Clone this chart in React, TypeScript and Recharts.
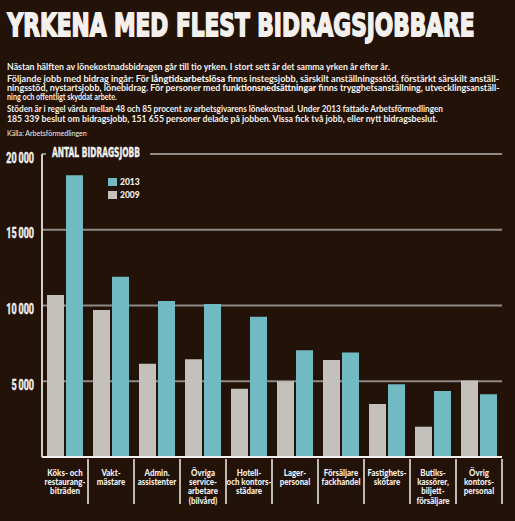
import React, { useLayoutEffect, useRef, useState } from 'react'
import { BarChart, Bar, XAxis, YAxis, CartesianGrid, Legend } from 'recharts'

const categories = [
  'Köks- och\nrestaurang-\nbiträden',
  'Vakt-\nmästare',
  'Admin.\nassistenter',
  'Övriga\nservice-\narbetare\n(bilvård)',
  'Hotell-\noch kontors-\nstädare',
  'Lager-\npersonal',
  'Försäljare\nfackhandel',
  'Fastighets-\nskötare',
  'Butiks-\nkassörer,\nbiljett-\nförsäljare',
  'Övrig\nkontors-\npersonal',
]
const jobs2013 = [18600, 11900, 10300, 10100, 9250, 7050, 6900, 4800, 4350, 4150]
const jobs2009 = [10700, 9700, 6150, 6450, 4500, 5000, 6400, 3500, 2000, 5050]
const yTicks = [0, 5000, 10000, 15000, 20000]

const data = categories.map((category, i) => ({
  category,
  y2013: jobs2013[i],
  y2009: jobs2009[i],
}))

const BG = '#221208'
const TEAL = '#72bac3'
const GRAY = '#c4c0bc'
const TEXT = '#f3f0ed'
const GRID = '#8e8985'

const W = 515
const H = 521
const PLOT_LEFT = 42
const PLOT_RIGHT = 502
const BAND = (PLOT_RIGHT - PLOT_LEFT) / categories.length

const fmt = (v: number) => v.toLocaleString('sv-SE').replace(/\s/g, '\u2009')

// squeezes a line of svg text to a given width
function FitText({ x, y, width, children, ...rest }: any) {
  const ref = useRef<SVGTextElement>(null)
  const [k, setK] = useState(1)
  useLayoutEffect(() => {
    const el = ref.current
    if (!el) return
    const w = el.getBBox().width
    if (w > 0) setK(width / w)
  }, [width])
  return (
    <text ref={ref} transform={`translate(${x} ${y}) scale(${k} 1)`} {...rest}>
      {children}
    </text>
  )
}

function ValueTick({ y, payload }: any) {
  if (!payload || payload.value === 0) return null
  return (
    <text
      transform={`translate(34 ${y + 8.5}) scale(0.6 1)`}
      textAnchor="end"
      fill={TEXT}
      stroke={TEXT}
      strokeWidth={0.5}
      fontFamily="Roboto, 'DejaVu Sans', sans-serif"
      fontWeight={700}
      fontSize={15}
    >
      {fmt(payload.value)}
    </text>
  )
}

function CategoryTick({ x, y, payload }: any) {
  const lines = String(payload.value).split('\n')
  return (
    <g>
      <line x1={x + BAND / 2} x2={x + BAND / 2} y1={y} y2={y + 45} stroke={TEXT} strokeWidth={1.5} />
      <text
        transform={`translate(${x} ${y + 16.5}) scale(0.9 1)`}
        textAnchor="middle"
        fill={TEXT}
        fontFamily="Lato, 'Open Sans', sans-serif"
        fontWeight={900}
        fontSize={8.8}
      >
        {lines.map((l, i) => (
          <tspan key={i} x={0} dy={i === 0 ? 0 : 9.4}>
            {l}
          </tspan>
        ))}
      </text>
    </g>
  )
}

function LegendBox({ payload }: any) {
  const items = [...(payload || [])].reverse()
  return (
    <div>
      {items.map((p: any) => (
        <div key={p.value} style={{ display: 'flex', alignItems: 'center', height: 13 }}>
          <span style={{ width: 9, height: 8, background: p.color, marginRight: 3 }} />
          <span style={{ color: TEXT, fontFamily: 'Lato, sans-serif', fontWeight: 900, fontSize: 8.5 }}>
            {p.value}
          </span>
        </div>
      ))}
    </div>
  )
}

const bodyFont = "Lato, 'Open Sans', sans-serif"

export default function App() {
  return (
    <div style={{ position: 'absolute', left: 0, top: 0, width: W, height: H, background: BG, overflow: 'hidden' }}>
      <div style={{ position: 'absolute', left: 0, top: 0 }}>
        <BarChart
          width={W}
          height={H}
          data={data}
          margin={{ top: 154, right: W - PLOT_RIGHT, bottom: 19, left: 0 }}
          barCategoryGap={5}
          barGap={2}
        >
          <CartesianGrid vertical={false} stroke={GRID} strokeWidth={2} />
          <XAxis
            dataKey="category"
            interval={0}
            height={45}
            tickSize={0}
            tickLine={false}
            axisLine={{ stroke: TEXT, strokeWidth: 2 }}
            tick={<CategoryTick />}
          />
          <YAxis
            domain={[0, 20000]}
            ticks={yTicks}
            width={PLOT_LEFT}
            tickSize={0}
            tickLine={false}
            axisLine={{ stroke: '#d2cdc8', strokeWidth: 2 }}
            tick={<ValueTick />}
          />
          <Legend
            layout="horizontal"
            verticalAlign="middle"
            align="center"
            wrapperStyle={{ left: 108, top: 175, width: 'auto' }}
            content={<LegendBox />}
          />
          <Bar dataKey="y2009" name="2009" fill={GRAY} barSize={17} isAnimationActive={false} />
          <Bar dataKey="y2013" name="2013" fill={TEAL} barSize={17} isAnimationActive={false} />
        </BarChart>
      </div>
      <svg width={W} height={H} style={{ position: 'absolute', left: 0, top: 0, pointerEvents: 'none' }}>
        <FitText
          x={7.5}
          y={36.2}
          width={468}
          fill={TEXT}
          stroke={TEXT}
          strokeWidth={1.8}
          strokeLinejoin="miter"
          fontFamily="'DejaVu Sans', sans-serif"
          fontWeight={700}
          fontSize={31.5}
        >
          YRKENA MED FLEST BIDRAGSJOBBARE
        </FitText>
        <g fill={TEXT} fontFamily={bodyFont} fontWeight={700} fontSize={8.5}>
          <FitText x={7} y={70} width={383}>
            Nästan hälften av lönekostnadsbidragen går till tio yrken. I stort sett är det samma yrken år efter år.
          </FitText>
          <FitText x={7} y={82} width={493}>
            Följande jobb med bidrag ingår: För <tspan fontWeight={900}>långtidsarbetslösa</tspan> finns instegsjobb,
            särskilt anställningsstöd, förstärkt särskilt anställ-
          </FitText>
          <FitText x={7} y={91} width={493}>
            ningsstöd, nystartsjobb, lönebidrag. För personer med <tspan fontWeight={900}>funktionsnedsättningar</tspan> finns
            trygghetsanställning, utvecklingsanställ-
          </FitText>
          <FitText x={7} y={100} width={110}>
            ning och offentligt skyddat arbete.
          </FitText>
          <FitText x={7} y={111.5} width={437}>
            Stöden är i regel värda mellan 48 och 85 procent av arbetsgivarens lönekostnad. Under 2013 fattade Arbetsförmedlingen
          </FitText>
          <FitText x={7} y={121.5} width={431}>
            185 339 beslut om bidragsjobb, 151 655 personer delade på jobben. Vissa fick två jobb, eller nytt bidragsbeslut.
          </FitText>
          <FitText x={7} y={136} width={80} fontSize={7} fontWeight={400}>
            Källa: Arbetsförmedlingen
          </FitText>
        </g>
        <rect x={46} y={146} width={104} height={14} fill={BG} />
        <FitText
          x={52}
          y={157}
          width={88}
          fill={TEXT}
          stroke={TEXT}
          strokeWidth={0.4}
          fontFamily="'DejaVu Sans', sans-serif"
          fontWeight={700}
          fontSize={13.5}
        >
          ANTAL BIDRAGSJOBB
        </FitText>
      </svg>
    </div>
  )
}
